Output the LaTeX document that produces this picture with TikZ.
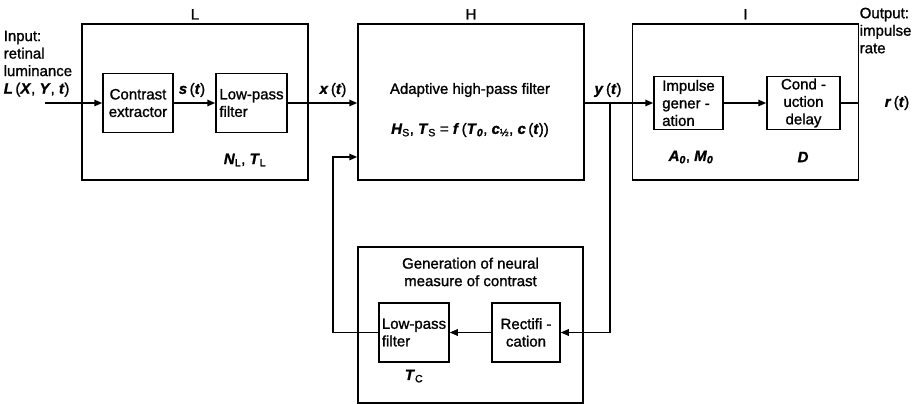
\documentclass[tikz,border=0pt]{standalone}
\usepackage{fontspec}
\setmainfont{Liberation Sans}[FakeBold=1.2]
\usetikzlibrary{arrows.meta,positioning,calc}
\tikzset{
  every picture/.style={line width=1.5pt},
  sunit/.style={draw, inner sep=0pt, minimum width=226, minimum height=156},
  sblock/.style={draw, inner sep=2pt, align=center, minimum height=59},
  ssig/.style={-{Triangle[length=8pt,width=6.5pt]}},
  stitle/.style={inner sep=1pt},
}
\newcommand{\vb}[1]{\textbf{\textit{#1}}}

\begin{document}
\begin{tikzpicture}[x=1pt,y=-1pt,font=\fontsize{15}{17.5}\selectfont]
\useasboundingbox (0,0) rectangle (922,404);
% three stages
\node[sunit] (L) at (195,102) {};
\node[sunit] (H) at (471,102) {};
\node[sunit] (I) at (745.5,102) {};
\node[stitle,above=2pt] (Lt) at (L.north) {L};
\node[stitle,above=2pt] (Ht) at (H.north) {H};
\node[stitle,above=2pt] (It) at (I.north) {I};
% contrast loop
\node[sunit,minimum width=225] (G) at (470.5,325) {};
\node[align=center] (Gt) at (470.5,272) {Generation of neural\\measure of contrast};

\node[sblock,minimum width=70] (ce) at (138,103) {Contrast\\extractor};
\node[sblock,minimum width=71,align=left] (lpL) at (251.5,103) {Low-pass\\filter};
\node[sblock,minimum width=69,minimum height=53,align=left] (ig) at (688.5,103) {Impulse\\gener -\\ation};
\node[sblock,minimum width=73,minimum height=53] (cd) at (803.5,103) {Cond -\\uction\\delay};
\node[sblock,minimum width=70,align=left] (lpC) at (414,332.5) {Low-pass\\filter};
\node[sblock,minimum width=68] (rc) at (526,332.5) {Rectifi -\\cation};

\node[anchor=north west,align=left,inner sep=0pt] (inp) at (3,30)
  {Input:\\retinal\\luminance\\\vb{L}\,(\vb{X}, \vb{Y}, \vb{t})};
\node[anchor=north west,align=left,inner sep=0pt] (outp) at (859,7)
  {Output:\\impulse\\rate};
\node (rt) at (897,103) {\vb{r}\,(\vb{t})};

\node (st) at (192,90) {\vb{s}\,(\vb{t})};
\node (xt) at (333,90) {\vb{x}\,(\vb{t})};
\node (yt) at (608,90) {\vb{y}\,(\vb{t})};
\node (hp) at (470,90) {Adaptive high-pass filter};
\node (hf) at (470,130) {\vb{H}\textsubscript{S}, \vb{T}\textsubscript{S} = \vb{f}\,(\vb{T}\textsubscript{\vb{0}}, \vb{c}\textsubscript{½}, \vb{c}\,(\vb{t}))};
\node (nl) at (245,160) {\vb{N}\textsubscript{L}, \vb{T}\textsubscript{L}};
\node (am) at (691,157) {\vb{A}\textsubscript{\vb{0}}, \vb{M}\textsubscript{\vb{0}}};
\node (dd) at (803,157) {\vb{D}};
\node (tc) at (414,376) {\vb{T}\textsubscript{C}};

\coordinate (in) at (45,103);
\coordinate (yb) at (610,103);
\coordinate (fb) at (333,157);
\draw[ssig] (in) -- (ce);
\draw[ssig] (ce) -- (lpL);
\draw[ssig] (lpL.east) -- (lpL.east -| H.west);
\draw[ssig] (ig.west -| H.east) -- (ig.west);
\draw[ssig] (ig) -- (cd);
\draw (cd.east) -- (cd.east -| I.east);
\draw[ssig] (yb) |- (rc.east);
\draw[ssig] (rc) -- (lpC);
\draw[ssig] (lpC.west) -| (fb) -- (fb -| H.west);
\end{tikzpicture}
\end{document}
